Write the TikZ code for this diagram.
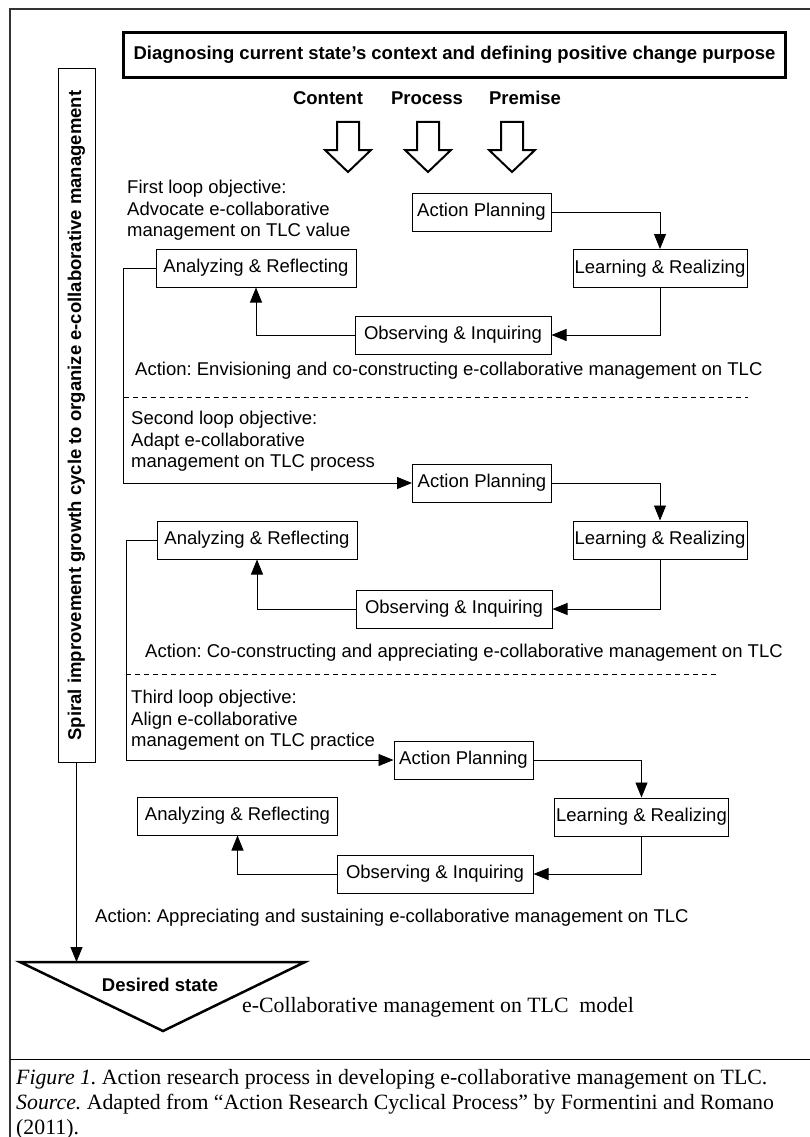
\documentclass[tikz,border=0pt]{standalone}
\usepackage{fontspec}
\setmainfont{Liberation Sans}
\newfontfamily\capfont{Liberation Serif}
\usetikzlibrary{arrows.meta}
\frenchspacing

\begin{document}
\begin{tikzpicture}[
  x=1pt, y=-1pt, >={Triangle[length=15pt,width=12pt]},
  font=\fontsize{18.5}{21.5}\selectfont,
  box/.style={rectangle, draw, line width=1pt, align=center, inner sep=0pt, minimum height=38pt},
  topbox/.style={rectangle, draw, line width=3pt, inner sep=0pt, font=\fontsize{18.5}{21.5}\selectfont\bfseries, minimum width=662pt, minimum height=45pt},
  sidebox/.style={rectangle, draw, line width=1pt, inner sep=0pt, font=\fontsize{18.5}{21.5}\selectfont\bfseries, minimum width=693pt, minimum height=37pt},
  lbl/.style={font=\fontsize{18.5}{21.5}\selectfont\bfseries},
  note/.style={align=left, inner sep=0pt},
  flow/.style={->, line width=0.9pt},
  hollow/.style={line width=2pt, fill=white}
]
  \useasboundingbox (0,0) rectangle (809,1137);
  % frame and caption rule
  \draw[line width=1.2pt, black!80] (10,1145) -- (10,9) -- (815,9);
  \draw[line width=1pt] (10,1059) -- (815,1059);

  % top
  \node[topbox] (diag) at (454.5,55) {Diagnosing current state's context and defining positive change purpose};
  \node[lbl] (content) at (328,98) {Content};
  \node[lbl] (process) at (427,98) {Process};
  \node[lbl] (premise) at (525,98) {Premise};
  \foreach \x in {348,428,512}
    \draw[hollow] (\x-11,122) -- (\x+11,122) -- (\x+11,150) -- (\x+23,150) -- (\x,172)
      -- (\x-23,150) -- (\x-11,150) -- cycle;

  % spiral
  \node[sidebox, rotate=90] (spiral) at (76.5,415.5) {Spiral improvement growth cycle to organize e-collaborative management};

  % first loop
  \node[note, anchor=north west] (obj1) at (127,180) {First loop objective:\\Advocate e-collaborative\\management on TLC value};
  \node[box, minimum width=139pt] (ap1) at (481.5,212) {Action Planning};
  \node[box, minimum width=174pt] (lr1) at (660,268.5) {Learning \& Realizing};
  \node[box, minimum width=196pt] (oi1) at (453,335) {Observing \& Inquiring};
  \node[box, minimum width=200pt] (ar1) at (256,268) {Analyzing \& Reflecting};
  \node[note, anchor=west] (act1) at (135,371) {Action: Envisioning and co-constructing e-collaborative management on TLC};
  \draw[flow] (ap1) -| (lr1);
  \draw[flow] (lr1) |- (oi1);
  \draw[flow] (oi1) -| (ar1);
  \draw[dashed, dash pattern=on 5pt off 4pt] (124,397) -- (748,397);

  % second loop
  \node[note, anchor=north west] (obj2) at (131,411) {Second loop objective:\\Adapt e-collaborative\\management on TLC process};
  \node[box, minimum width=139pt] (ap2) at (482,483) {Action Planning};
  \node[box, minimum width=174pt] (lr2) at (660,540) {Learning \& Realizing};
  \node[box, minimum width=196pt] (oi2) at (454,609) {Observing \& Inquiring};
  \node[box, minimum width=200pt] (ar2) at (257,540) {Analyzing \& Reflecting};
  \node[note, anchor=west] (act2) at (145,653) {Action: Co-constructing and appreciating e-collaborative management on TLC};
  \coordinate (turn1) at (123,483);
  \draw[flow] (ar1.west) -| (turn1) -- (ap2.west);
  \draw[flow] (ap2) -| (lr2);
  \draw[flow] (lr2) |- (oi2);
  \draw[flow] (oi2) -| (ar2);
  \draw[dashed, dash pattern=on 5pt off 4pt] (126,674) -- (717,674);

  % third loop
  \node[note, anchor=north west] (obj3) at (131,690) {Third loop objective:\\Align e-collaborative\\management on TLC practice};
  \node[box, minimum width=139pt] (ap3) at (463.5,760) {Action Planning};
  \node[box, minimum width=174pt] (lr3) at (641.5,817) {Learning \& Realizing};
  \node[box, minimum width=196pt] (oi3) at (435,874) {Observing \& Inquiring};
  \node[box, minimum width=200pt] (ar3) at (237.5,816) {Analyzing \& Reflecting};
  \node[note, anchor=west] (act3) at (95,918) {Action: Appreciating and sustaining e-collaborative management on TLC};
  \coordinate (turn2) at (126,760);
  \draw[flow] (ar2.west) -| (turn2) -- (ap3.west);
  \draw[flow] (ap3) -| (lr3);
  \draw[flow] (lr3) |- (oi3);
  \draw[flow] (oi3) -| (ar3);

  % desired state
  \coordinate (tl) at (20,962);
  \coordinate (tr) at (305,962);
  \coordinate (tb) at (163,1031);
  \coordinate (dtop) at (76.5,962);
  \draw[line width=2.5pt, line join=miter] (tl) -- (tr) -- (tb) -- cycle;
  \draw[flow] (spiral.west) -- (dtop);
  \node[lbl] (desired) at (160,985) {Desired state};
  \node[anchor=west, inner sep=0pt, font=\capfont\fontsize{21.8}{25}\selectfont] (model) at (242,1007) {e-Collaborative management on TLC\ \ model};

  % caption
  \node[note, anchor=north west, font=\capfont\fontsize{21.8}{25}\selectfont] (caption) at (16,1069)
    {\textit{Figure 1.} Action research process in developing e-collaborative management on TLC.\\
     \textit{Source.} Adapted from “Action Research Cyclical Process” by Formentini and Romano\\
     (2011).};
\end{tikzpicture}
\end{document}
